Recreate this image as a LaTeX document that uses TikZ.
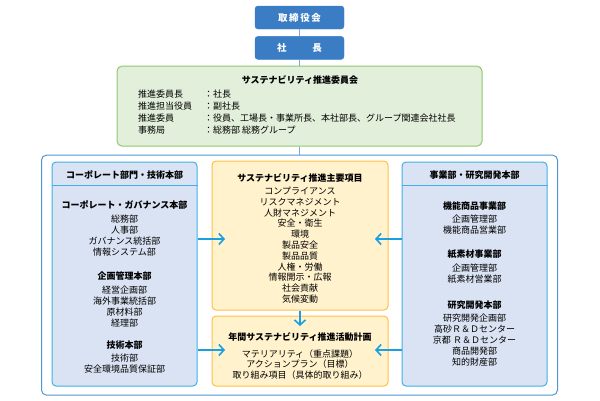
\documentclass[tikz,border=0pt]{standalone}
\usepackage{fontspec}
\setmainfont{Noto Sans CJK JP}
\usetikzlibrary{positioning,arrows.meta}
\definecolor{ceoblue}{RGB}{58,125,196}
\definecolor{comfill}{RGB}{226,239,218}
\definecolor{comline}{RGB}{146,200,108}
\definecolor{itemfill}{RGB}{255,242,204}
\definecolor{itemline}{RGB}{255,192,70}
\definecolor{deptfill}{RGB}{218,227,243}
\definecolor{deptline}{RGB}{64,176,230}
\definecolor{frameline}{RGB}{80,150,210}
\definecolor{arrowblue}{RGB}{25,160,225}
\definecolor{linkblue}{RGB}{120,170,220}
\begin{document}
\begin{tikzpicture}[x=1pt, y=-1pt, node distance=7pt, font=\fontsize{9}{11}\selectfont,
  txt/.style={inner sep=0pt, align=center},
  bold/.style={font=\fontsize{9}{11}\selectfont\bfseries}]

\tikzstyle{topbox}=[draw=ceoblue, fill=ceoblue, rounded corners=3pt, minimum width=89pt, minimum height=23pt, inner sep=0pt, text=white, font=\fontsize{9.5}{11}\selectfont\bfseries]
\tikzstyle{dept}=[draw=deptline, fill=deptfill, line width=1pt, rounded corners=4pt, minimum width=145pt, minimum height=224pt, inner sep=0pt]
\tikzstyle{item}=[draw=itemline, fill=itemfill, line width=1pt, rounded corners=4pt, minimum width=176pt, inner sep=0pt]
\tikzstyle{link}=[draw=linkblue, line width=1.5pt]
\tikzstyle{arr}=[draw=arrowblue, line width=1.6pt, -{Straight Barb[length=5pt,width=11pt]}]

\useasboundingbox (0,0) rectangle (600,400);

\node[topbox] (board) at (299.5,17.5) {取\,締\,役\,会};
\node[topbox, below=of board] (pres) {社\hspace{2.7em}長};
\node[draw=comline, fill=comfill, line width=1pt, rounded corners=5pt, minimum width=365pt, minimum height=80pt, inner sep=0pt, below=6pt of pres] (committee) {};
\node[draw=frameline, fill=white, line width=1pt, rounded corners=5pt, minimum width=516pt, minimum height=240pt, inner sep=0pt, below=8pt of committee] (frame) {};

\node[dept] (corp) at (124.5,274) {};
\node[dept] (biz) at (474.5,274) {};
\node[item, minimum height=149pt] (topics) at (300,235.5) {};
\node[item, minimum height=70pt] (plan) at (300,351) {};

\draw[link] (board) -- (pres);
\draw[link] (pres) -- (committee);
\draw[link] (committee) -- (frame);
\draw[deptline, line width=1pt] ([yshift=-24pt]corp.north west) -- ([yshift=-24pt]corp.north east);
\draw[deptline, line width=1pt] ([yshift=-24pt]biz.north west) -- ([yshift=-24pt]biz.north east);

\coordinate (tl) at (225,239);
\coordinate (tr) at (375,239);
\coordinate (bl) at (225,350);
\coordinate (br) at (375,350);
\coordinate (down) at (300,326);
\draw[arr] (corp.east |- tl) -- (tl);
\draw[arr] (biz.west |- tr) -- (tr);
\draw[arr] (corp.east |- bl) -- (bl);
\draw[arr] (biz.west |- br) -- (br);
\draw[arr] (topics) -- (down);

\node[txt, bold] (comtitle) at (300,80) {サステナビリティ推進委員会};
\node[txt, align=left, anchor=west, font=\fontsize{9}{12}\selectfont] (comrows) at (138,112)
  {\makebox[66pt][l]{推進委員長}：社長\\
   \makebox[66pt][l]{推進担当役員}：副社長\\
   \makebox[66pt][l]{推進委員}：役員、工場長・事業所長、本社部長、グループ関連会社社長\\
   \makebox[66pt][l]{事務局}：総務部 総務グループ};

\node[txt, bold] (corphead) at (124.5,175) {コーポレート部門・技術本部};
\node[txt] (gov) at (124.5,228.5) {\textbf{コーポレート・ガバナンス本部}\\[3pt]総務部\\人事部\\ガバナンス統括部\\情報システム部};
\node[txt] (mgmt) at (124.5,299) {\textbf{企画管理本部}\\[3pt]経営企画部\\海外事業統括部\\原材料部\\経理部};
\node[txt] (tech) at (124.5,357.5) {\textbf{技術本部}\\[2pt]技術部\\安全環境品質保証部};

\node[txt, bold] (bizhead) at (474.5,175) {事業部・研究開発本部};
\node[txt] (func) at (474.5,218) {\textbf{機能商品事業部}\\[2pt]企画管理部\\機能商品営業部};
\node[txt] (paper) at (474.5,267) {\textbf{紙素材事業部}\\[3pt]企画管理部\\紙素材営業部};
\node[txt] (rnd) at (474.5,333.5) {\textbf{研究開発本部}\\[2pt]研究開発企画部\\高砂Ｒ＆Ｄセンター\\京都 Ｒ＆Ｄセンター\\商品開発部\\知的財産部};

\node[txt, font=\fontsize{9}{10.8}\selectfont] (topiclist) at (300,238.5)
  {\textbf{サステナビリティ推進主要項目}\\[2.2pt]コンプライアンス\\リスクマネジメント\\人財マネジメント\\安全・衛生\\環境\\製品安全\\製品品質\\人権・労働\\情報開示・広報\\社会貢献\\気候変動};
\node[txt, font=\fontsize{9}{10.5}\selectfont] (planlist) at (300,356)
  {\textbf{年間サステナビリティ推進活動計画}\\[6pt]マテリアリティ（重点課題）\\アクションプラン（目標）\\取り組み項目（具体的取り組み）};
\end{tikzpicture}
\end{document}
